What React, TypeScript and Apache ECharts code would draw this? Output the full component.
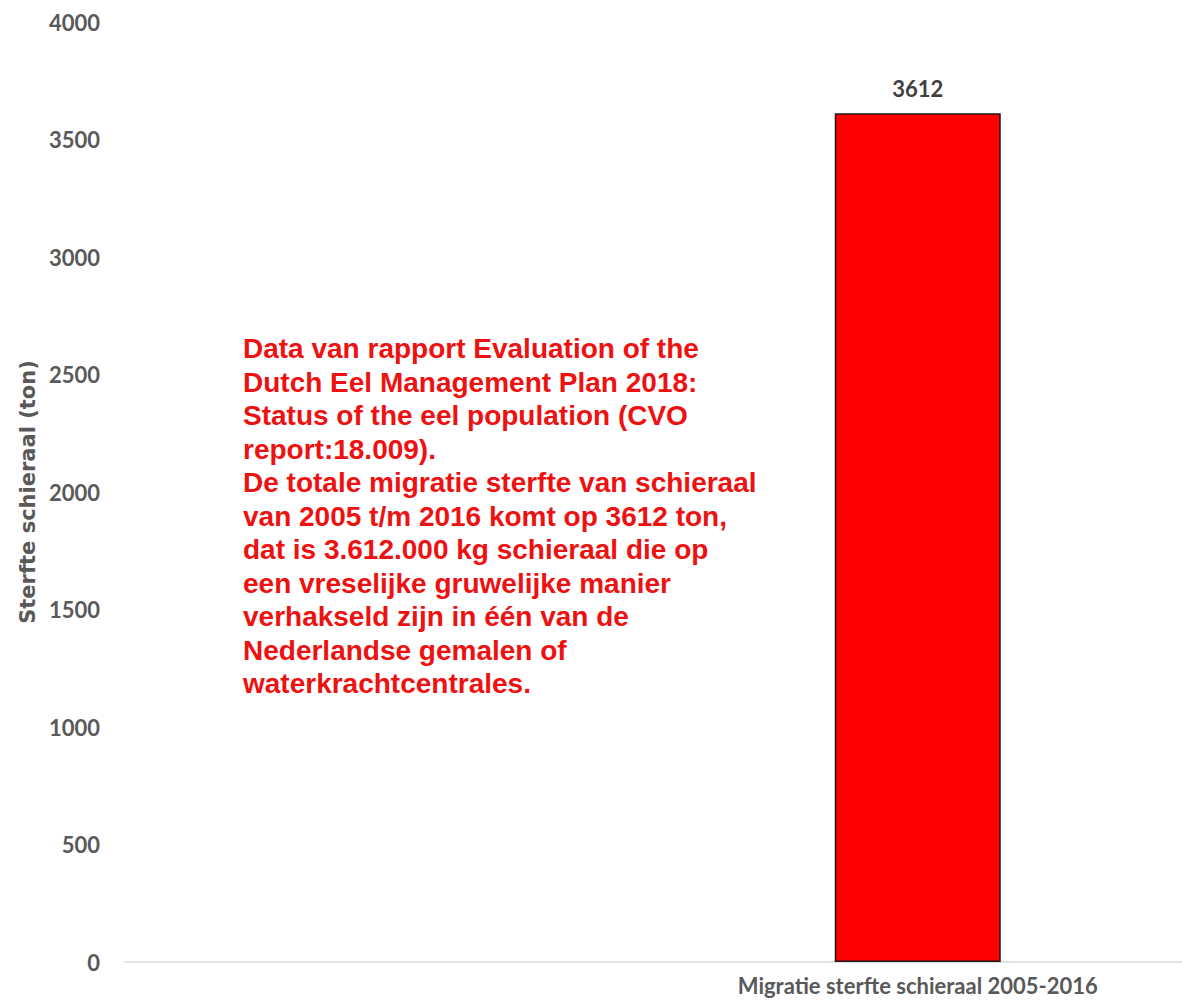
import React, { useEffect, useRef } from "react";
import * as echarts from "echarts";

const categories: string[] = ["", "Migratie sterfte schieraal 2005-2016"];
const values: (number | null)[] = [null, 3612];
const yMin = 0;
const yMax = 4000;
const yInterval = 500;
const yAxisName = "Sterfte schieraal (ton)";
const noteLines: string[] = [
  "Data van rapport Evaluation of the",
  "Dutch Eel Management Plan 2018:",
  "Status of the eel population (CVO",
  "report:18.009).",
  "De totale migratie sterfte van schieraal",
  "van 2005 t/m 2016 komt op 3612 ton,",
  "dat is 3.612.000 kg schieraal die op",
  "een vreselijke gruwelijke manier",
  "verhakseld zijn in één van de",
  "Nederlandse gemalen of",
  "waterkrachtcentrales.",
];

export default function App() {
  const ref = useRef<HTMLDivElement>(null);
  useEffect(() => {
    if (!ref.current) return;
    const chart = echarts.init(ref.current, undefined, { renderer: "svg" });
    const gray = "#595959";
    chart.setOption({
      animation: false,
      backgroundColor: "#ffffff",
      grid: { left: 125, right: -4, top: 22, bottom: 43, containLabel: false },
      xAxis: {
        type: "category",
        data: categories,
        axisLine: { show: true, lineStyle: { color: "#d9d9d9", width: 1.5 } },
        axisTick: { show: false },
        axisLabel: {
          interval: 0,
          margin: 12,
          color: gray,
          fontFamily: "Lato",
          fontWeight: "bold",
          fontSize: 22,
        },
        splitLine: { show: false },
      },
      yAxis: {
        type: "value",
        min: yMin,
        max: yMax,
        interval: yInterval,
        name: yAxisName,
        nameLocation: "middle",
        nameGap: 87,
        nameRotate: 90,
        nameTextStyle: {
          color: gray,
          fontFamily: "DejaVu Sans",
          fontWeight: "bold",
          fontSize: 21,
        },
        axisLine: { show: false },
        axisTick: { show: false },
        splitLine: { show: false },
        axisLabel: {
          margin: 25,
          color: gray,
          fontFamily: "Lato",
          fontWeight: "bold",
          fontSize: 22,
          formatter: (v: number) => String(v),
        },
      },
      series: [
        {
          type: "bar",
          data: values,
          barWidth: 166,
          itemStyle: { color: "#ff0000", borderColor: "#1a1a1a", borderWidth: 1.5 },
          label: {
            show: true,
            position: "top",
            distance: 14,
            color: "#404040",
            fontFamily: "Lato",
            fontWeight: "bold",
            fontSize: 22,
          },
        },
      ],
      graphic: [
        {
          type: "text",
          left: 243,
          top: 332,
          style: {
            text: noteLines.join("\n"),
            font: 'bold 28px "Liberation Sans", Arial, sans-serif',
            lineHeight: 33.5,
            fill: "#ee1111",
          },
        },
      ],
    });
    return () => chart.dispose();
  }, []);
  return (
    <div
      ref={ref}
      style={{ position: "fixed", left: 0, top: 0, width: 1182, height: 1005 }}
    />
  );
}
